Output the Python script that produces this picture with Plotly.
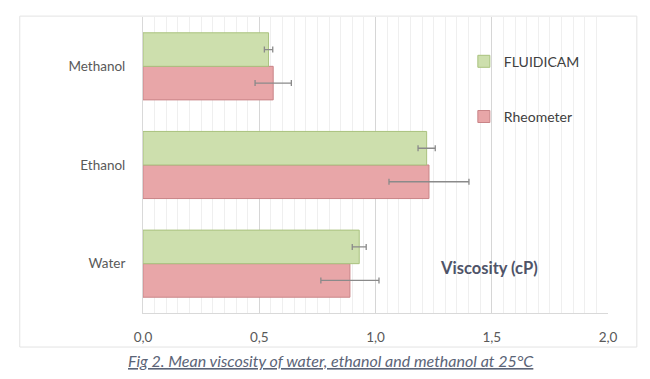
import plotly.graph_objects as go

categories = ["Water", "Ethanol", "Methanol"]
fluidicam = [0.93, 1.22, 0.54]
fluidicam_err = [0.03, 0.037, 0.018]
rheometer = [0.89, 1.23, 0.56]
rheometer_err = [0.125, 0.172, 0.078]
x_ticks = [0.0, 0.5, 1.0, 1.5, 2.0]
x_ticklabels = ["0,0", "0,5", "1,0", "1,5", "2,0"]

FONT = "Lato, 'Open Sans', sans-serif"
err_style = dict(type="data", color="#8a8a8a", thickness=1.3, width=3)

fig = go.Figure()
fig.add_trace(go.Bar(
    y=categories, x=rheometer, orientation="h", name="Rheometer",
    marker=dict(color="#e8a6a8", line=dict(color="#c98487", width=1)),
    error_x=dict(array=rheometer_err, **err_style),
    legendgroup="r", legendrank=2,
))
fig.add_trace(go.Bar(
    y=categories, x=fluidicam, orientation="h", name="FLUIDICAM",
    marker=dict(color="#cddfad", line=dict(color="#a9c27e", width=1)),
    error_x=dict(array=fluidicam_err, **err_style),
    legendgroup="f", legendrank=1,
))

fig.update_layout(
    width=634, height=363,
    margin=dict(l=135, r=34, t=9, b=58, autoexpand=False),
    paper_bgcolor="white", plot_bgcolor="white",
    barmode="group", bargap=0.32, bargroupgap=0,
    font=dict(family=FONT, size=13, color="#595959"),
    showlegend=True,
    legend=dict(
        x=0.69, y=0.903, xanchor="left", yanchor="top",
        traceorder="grouped", tracegroupgap=34,
        font=dict(size=14, color="#404040"),
        bgcolor="rgba(0,0,0,0)", itemwidth=30,
    ),
    xaxis=dict(
        range=[0, 2.0], tickvals=x_ticks, ticktext=x_ticklabels,
        showgrid=True, gridcolor="#d6d6d6", gridwidth=1,
        minor=dict(dtick=0.05, showgrid=True, gridcolor="#efefef", gridwidth=1),
        zeroline=False, showline=True, linecolor="#d9d9d9",
        ticks="", ticklabelstandoff=12, automargin=False,
        tickfont=dict(size=13.5, color="#595959"),
    ),
    yaxis=dict(
        showgrid=False, zeroline=False, showline=True, linecolor="#d9d9d9",
        ticks="", ticklabelstandoff=14, automargin=False,
        tickfont=dict(size=13.5, color="#595959"),
    ),
    shapes=[dict(
        type="rect", xref="paper", yref="paper",
        x0=-0.265, x1=1.062, y0=-0.115, y1=1.003,
        line=dict(color="#e3e3e3", width=1), fillcolor="rgba(0,0,0,0)", layer="below",
    )],
    annotations=[
        dict(text="<b>Viscosity (cP)</b>", xref="paper", yref="paper",
             x=0.745, y=0.152, xanchor="center", yanchor="middle", showarrow=False,
             font=dict(size=16.5, color="#4f5468", family=FONT)),
        dict(text="<i><u>Fig 2. Mean viscosity of water, ethanol and methanol at 25°C</u></i>",
             xref="paper", yref="paper", x=0.405, y=-0.159, xanchor="center", yanchor="middle",
             showarrow=False, font=dict(size=16, color="#5b6477", family=FONT)),
    ],
)

fig.write_html("out.html")
